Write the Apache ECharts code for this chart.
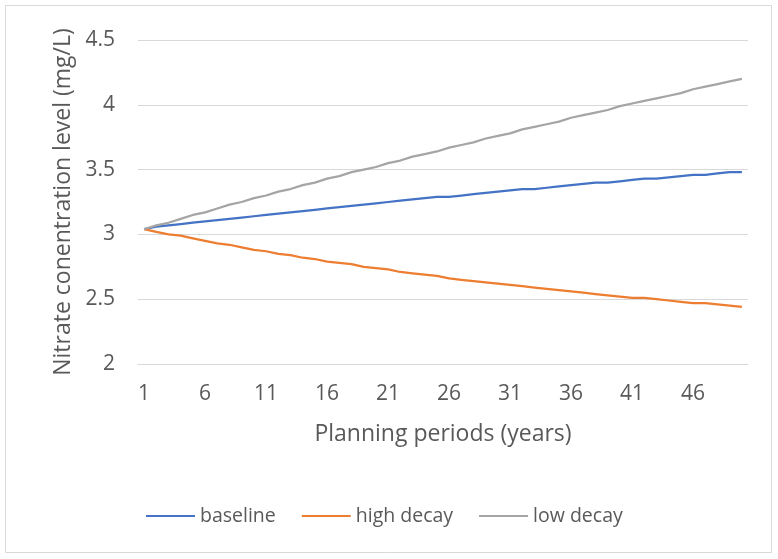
<!DOCTYPE html>
<html>
<head>
<meta charset="utf-8">
<script src="https://cdn.jsdelivr.net/npm/echarts@6/dist/echarts.min.js"></script>
<style>
html,body{margin:0;padding:0;background:#fff;}
#chart{width:778px;height:559px;}
</style>
</head>
<body>
<div id="chart"></div>
<script>
var categories = [];
for (var i = 1; i <= 50; i++) categories.push(String(i));

var baseline = [3.04,3.06,3.07,3.08,3.09,3.10,3.11,3.12,3.13,3.14,
  3.15,3.16,3.17,3.18,3.19,3.20,3.21,3.22,3.23,3.24,
  3.25,3.26,3.27,3.28,3.29,3.29,3.30,3.31,3.32,3.33,
  3.34,3.35,3.35,3.36,3.37,3.38,3.39,3.40,3.40,3.41,
  3.42,3.43,3.43,3.44,3.45,3.46,3.46,3.47,3.48,3.48];

var highDecay = [3.04,3.02,3.00,2.99,2.97,2.95,2.93,2.92,2.90,2.88,
  2.87,2.85,2.84,2.82,2.81,2.79,2.78,2.77,2.75,2.74,
  2.73,2.71,2.70,2.69,2.68,2.66,2.65,2.64,2.63,2.62,
  2.61,2.60,2.59,2.58,2.57,2.56,2.55,2.54,2.53,2.52,
  2.51,2.51,2.50,2.49,2.48,2.47,2.47,2.46,2.45,2.44];

var lowDecay = [3.04,3.07,3.09,3.12,3.15,3.17,3.20,3.23,3.25,3.28,
  3.30,3.33,3.35,3.38,3.40,3.43,3.45,3.48,3.50,3.52,
  3.55,3.57,3.60,3.62,3.64,3.67,3.69,3.71,3.74,3.76,
  3.78,3.81,3.83,3.85,3.87,3.90,3.92,3.94,3.96,3.99,
  4.01,4.03,4.05,4.07,4.09,4.12,4.14,4.16,4.18,4.20];

var seriesNames = ['baseline', 'high decay', 'low decay'];
var colors = ['#4472C4', '#ED7D31', '#A5A5A5'];
var FONT = '"Open Sans", sans-serif';
var TXT = '#595959';

var chart = echarts.init(document.getElementById('chart'), null, {renderer: 'canvas'});
chart.setOption({
  animation: false,
  backgroundColor: '#ffffff',
  color: colors,
  graphic: [{
    type: 'rect',
    shape: {x: 5.5, y: 5.5, width: 766, height: 547},
    style: {fill: 'none', stroke: '#d9d9d9', lineWidth: 1},
    silent: true
  }],
  grid: {left: 138, right: 30, top: 40, bottom: 195, containLabel: false},
  legend: {
    left: 141,
    top: 501,
    icon: 'rect',
    itemWidth: 49,
    itemHeight: 2,
    itemGap: 26,
    textStyle: {color: TXT, fontSize: 19.5, fontFamily: FONT},
    data: seriesNames
  },
  xAxis: {
    type: 'category',
    data: categories,
    boundaryGap: true,
    name: 'Planning periods (years)',
    nameLocation: 'middle',
    nameGap: 59,
    nameTextStyle: {color: TXT, fontSize: 23, fontFamily: FONT},
    axisLine: {lineStyle: {color: '#d9d9d9', width: 1}},
    axisTick: {interval: 4, length: 7, lineStyle: {color: '#d9d9d9'}},
    axisLabel: {interval: 4, color: TXT, fontSize: 21, fontFamily: FONT, margin: 20},
    splitLine: {show: false}
  },
  yAxis: {
    type: 'value',
    min: 2,
    max: 4.5,
    interval: 0.5,
    name: 'Nitrate conentration level (mg/L)',
    nameLocation: 'middle',
    nameGap: 63,
    nameTextStyle: {color: TXT, fontSize: 23, fontFamily: FONT},
    axisLine: {show: false},
    axisTick: {show: false},
    axisLabel: {color: TXT, fontSize: 21, fontFamily: FONT, margin: 23},
    splitLine: {lineStyle: {color: '#d9d9d9', width: 1}}
  },
  series: [
    {name: seriesNames[0], type: 'line', data: baseline, symbol: 'none', lineStyle: {width: 2.25, color: colors[0]}},
    {name: seriesNames[1], type: 'line', data: highDecay, symbol: 'none', lineStyle: {width: 2.25, color: colors[1]}},
    {name: seriesNames[2], type: 'line', data: lowDecay, symbol: 'none', lineStyle: {width: 2.25, color: colors[2]}}
  ]
});
</script>
</body>
</html>
